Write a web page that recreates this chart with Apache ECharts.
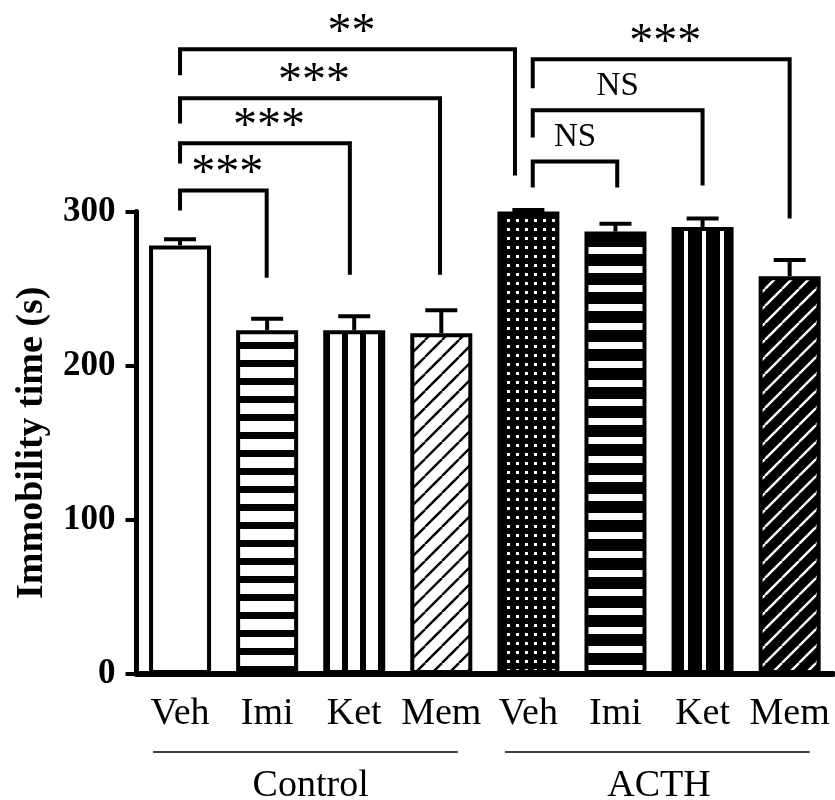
<!DOCTYPE html>
<html>
<head>
<meta charset="utf-8">
<script src="https://cdn.jsdelivr.net/npm/echarts@6/dist/echarts.min.js"></script>
<style>html,body{margin:0;padding:0;background:#fff}#c{width:835px;height:800px}</style>
</head>
<body>
<div id="c"></div>
<script>
// ---- data ----
const categories = ['Veh', 'Imi', 'Ket', 'Mem', 'Veh', 'Imi', 'Ket', 'Mem'];
const means = [278, 223, 223, 221, 300, 287, 290, 258];
const sems = [4, 7.5, 9, 15, 1, 5, 5.5, 10.5];
const groups = ['Control', 'ACTH'];
const yTicks = [0, 100, 200, 300];
// significance brackets (x in category units, y in seconds)
const bracketLabels = ['***', '***', '***', '**', 'NS', 'NS', '***'];
const bracketFrom = [0, 0, 0, 0, 4.05, 4.05, 4.05];
const bracketTo = [0.995, 1.95, 2.985, 3.846, 5.02, 6.0, 7.0];
const bracketTop = [313.6, 344.2, 373.4, 405.2, 332.5, 365.6, 398.7];
const bracketLeftEnd = [300.6, 331.2, 357.1, 388.3, 315.6, 348, 379.9];
const bracketRightEnd = [257.1, 259, 259, 323.4, 315.6, 316.9, 295.5];
// group underline extents (category units) and level (seconds)
const groupLineFrom = [-0.31, 3.73];
const groupLineTo = [3.19, 7.23];
const groupLineLevel = -50.6;

// ---- patterns ----
function mk(w, h, draw) {
  const c = document.createElement('canvas');
  c.width = w; c.height = h;
  draw(c.getContext('2d'), w, h);
  return { image: c, repeat: 'repeat' };
}
const pWhite = '#ffffff';
const pHLight = mk(18, 18, (g, w, h) => { g.fillStyle = '#fff'; g.fillRect(0, 0, w, h); g.fillStyle = '#000'; g.fillRect(0, 0, w, 7); });
const pVLight = mk(18, 18, (g, w, h) => { g.fillStyle = '#fff'; g.fillRect(0, 0, w, h); g.fillStyle = '#000'; g.fillRect(0, 0, 6, h); });
function diag(bg, fg) {
  return mk(17, 17, (g, w, h) => {
    g.fillStyle = bg; g.fillRect(0, 0, w, h);
    g.strokeStyle = fg; g.lineWidth = 2.4;
    for (const o of [-w, 0, w]) { g.beginPath(); g.moveTo(o, h); g.lineTo(o + w, 0); g.stroke(); }
  });
}
const pDLight = diag('#fff', '#000');
const pDots = mk(9, 9, (g, w, h) => { g.fillStyle = '#000'; g.fillRect(0, 0, w, h); g.fillStyle = '#fff'; g.fillRect(3, 3, 3, 3); });
const pHDark = mk(19, 19, (g, w, h) => { g.fillStyle = '#000'; g.fillRect(0, 0, w, h); g.fillStyle = '#fff'; g.fillRect(0, 0, w, 7); });
const pVDark = mk(18, 18, (g, w, h) => { g.fillStyle = '#000'; g.fillRect(0, 0, w, h); g.fillStyle = '#fff'; g.fillRect(0, 0, 4, h); });
const pDDark = diag('#000', '#fff');
const fills = [pWhite, pHLight, pVLight, pDLight, pDots, pHDark, pVDark, pDDark];

const FONT = 'Liberation Serif';
const series = [];

series.push({
  type: 'bar',
  xAxisIndex: 0,
  barWidth: 62,
  data: means.map((v, i) => ({ value: v, itemStyle: { color: fills[i], borderColor: '#000', borderWidth: 4 } })),
  z: 2
});

series.push({
  type: 'custom',
  xAxisIndex: 0,
  data: means.map((v, i) => [i, v, sems[i]]),
  renderItem: function (params, api) {
    const base = api.coord([api.value(0), api.value(1)]);
    const top = api.coord([api.value(0), api.value(1) + api.value(2)]);
    const st = { stroke: '#000', lineWidth: 4 };
    return {
      type: 'group',
      children: [
        { type: 'line', shape: { x1: base[0], y1: base[1], x2: top[0], y2: top[1] }, style: st },
        { type: 'line', shape: { x1: top[0] - 16, y1: top[1], x2: top[0] + 16, y2: top[1] }, style: st }
      ]
    };
  },
  z: 3
});

bracketLabels.forEach((lab, k) => {
  series.push({
    type: 'line',
    xAxisIndex: 1,
    clip: false,
    symbol: 'none',
    lineStyle: { color: '#000', width: 4, cap: 'butt', join: 'miter' },
    data: [[bracketFrom[k], bracketLeftEnd[k]], [bracketFrom[k], bracketTop[k]], [bracketTo[k], bracketTop[k]], [bracketTo[k], bracketRightEnd[k]]],
    z: 4
  });
});

series.push({
  type: 'scatter',
  xAxisIndex: 1,
  clip: false,
  symbolSize: 0,
  itemStyle: { opacity: 1 },
  data: bracketLabels.map((lab, k) => ({
    value: [(bracketFrom[k] + bracketTo[k]) / 2, bracketTop[k]],
    label: lab === 'NS'
      ? { show: true, position: 'inside', formatter: lab, fontFamily: FONT, fontSize: 33, color: '#000', opacity: 1, offset: [0, -24] }
      : { show: true, position: 'inside', formatter: lab, fontFamily: FONT, fontSize: 48, color: '#000', opacity: 1, offset: [4, -16] }
  })),
  z: 5
});

groups.forEach((gname, k) => {
  series.push({
    type: 'line',
    xAxisIndex: 1,
    clip: false,
    symbol: 'none',
    lineStyle: { color: '#000', width: 1.5 },
    data: [[groupLineFrom[k], groupLineLevel], [groupLineTo[k], groupLineLevel]],
    z: 4
  });
});

const chart = echarts.init(document.getElementById('c'), null, { renderer: 'canvas' });
chart.setOption({
  animation: false,
  backgroundColor: '#fff',
  grid: { left: 136.5, right: 1.8, top: 211.5, bottom: 126, containLabel: false, outerBoundsMode: 'none' },
  xAxis: [
    {
      type: 'category',
      data: categories,
      axisLine: { onZero: false, lineStyle: { color: '#000', width: 6 } },
      axisTick: { alignWithLabel: true, length: 11, lineStyle: { color: '#000', width: 4 } },
      axisLabel: { interval: 0, fontFamily: FONT, fontSize: 38, color: '#000', margin: 21 }
    },
    { type: 'value', min: -0.5, max: 7.5, show: false },
    {
      type: 'category',
      data: groups,
      position: 'bottom',
      offset: 0,
      axisLine: { show: false },
      axisTick: { show: false },
      axisLabel: { interval: 0, fontFamily: FONT, fontSize: 38, color: '#000', margin: 93 }
    }
  ],
  yAxis: {
    type: 'value',
    min: yTicks[0],
    max: yTicks[yTicks.length - 1],
    interval: 100,
    name: 'Immobility time (s)',
    nameLocation: 'middle',
    nameGap: 85,
    nameTextStyle: { fontFamily: FONT, fontSize: 38, fontWeight: 'bold', color: '#000' },
    axisLine: { show: true, onZero: false, lineStyle: { color: '#000', width: 5 } },
    axisTick: { show: true, length: 11, lineStyle: { color: '#000', width: 4 } },
    axisLabel: { fontFamily: FONT, fontSize: 35, fontWeight: 'bold', color: '#000', margin: 21 },
    splitLine: { show: false }
  },
  series: series
});
</script>
</body>
</html>
